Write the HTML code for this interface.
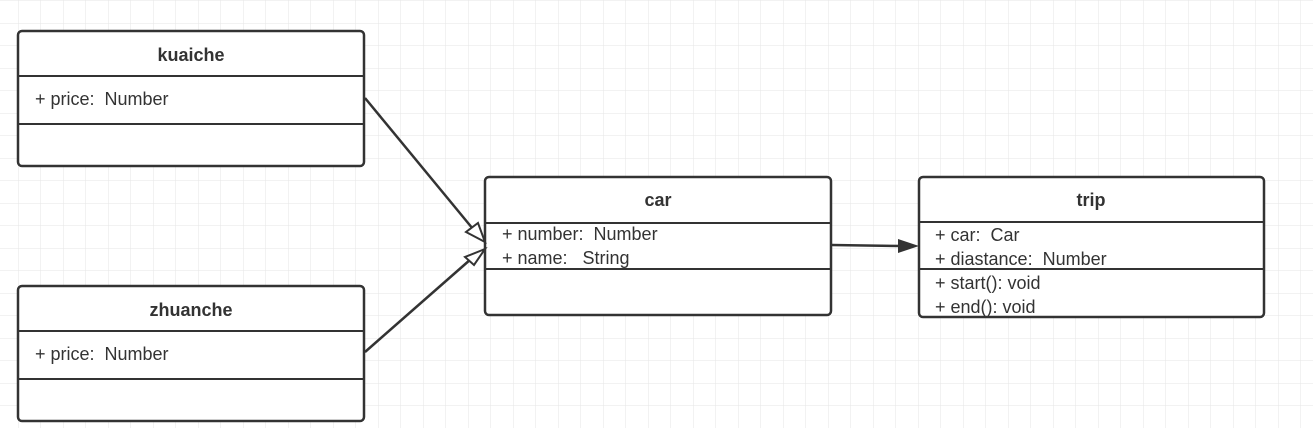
<!DOCTYPE html>
<html><head><meta charset="utf-8"><style>
body{margin:0;width:1313px;height:428px;overflow:hidden;background:#fff;}
svg{display:block}
text{font-family:"Liberation Sans",sans-serif;fill:#333;font-size:18px;white-space:pre}
.t{font-weight:bold;text-anchor:middle}
</style></head><body>
<svg width="1313" height="428" xmlns="http://www.w3.org/2000/svg" xml:space="preserve">
<defs>
<pattern id="g" width="22.5" height="22.5" patternUnits="userSpaceOnUse" x="18" y="0.5">
<path d="M0 0H22.5M0 0V22.5" stroke="#e6e6e6" stroke-width="1" fill="none"/>
</pattern>
</defs>
<rect width="1313" height="428" fill="url(#g)"/>
<g stroke="#333" stroke-width="2.5" fill="#fff">
<rect x="18" y="31" width="346" height="135" rx="4"/>
<rect x="18" y="286" width="346" height="135" rx="4"/>
<rect x="485" y="177" width="346" height="138" rx="4"/>
<rect x="919" y="177" width="345" height="140" rx="4"/>
</g>
<g stroke="#333" stroke-width="2">
<line x1="18" y1="76" x2="364" y2="76"/><line x1="18" y1="124" x2="364" y2="124"/>
<line x1="18" y1="331" x2="364" y2="331"/><line x1="18" y1="379" x2="364" y2="379"/>
<line x1="485" y1="223" x2="831" y2="223"/><line x1="485" y1="269" x2="831" y2="269"/>
<line x1="919" y1="222" x2="1264" y2="222"/><line x1="919" y1="269" x2="1264" y2="269"/>
</g>
<g stroke="#333" stroke-width="2.5" fill="none">
<line x1="365" y1="98" x2="473" y2="229"/>
<line x1="365" y1="352" x2="471" y2="259"/>
<line x1="832" y1="245" x2="902" y2="246"/>
</g>
<g stroke="#333" stroke-width="2" fill="#fff">
<polygon points="485,242 466,232 478,223"/>
<polygon points="485,249 465,257 474,265"/>
</g>
<polygon points="919,246 898,239 898,253" fill="#333"/>
<text class="t" x="191" y="61">kuaiche</text>
<text x="35" y="105">+ price:  Number</text>
<text class="t" x="191" y="316">zhuanche</text>
<text x="35" y="360">+ price:  Number</text>
<text class="t" x="658" y="206">car</text>
<text x="502" y="240">+ number:  Number</text>
<text x="502" y="264">+ name:   String</text>
<text class="t" x="1091" y="206">trip</text>
<text x="935" y="241">+ car:  Car</text>
<text x="935" y="265">+ diastance:  Number</text>
<text x="935" y="289">+ start(): void</text>
<text x="935" y="313">+ end(): void</text>
</svg>
</body></html>
